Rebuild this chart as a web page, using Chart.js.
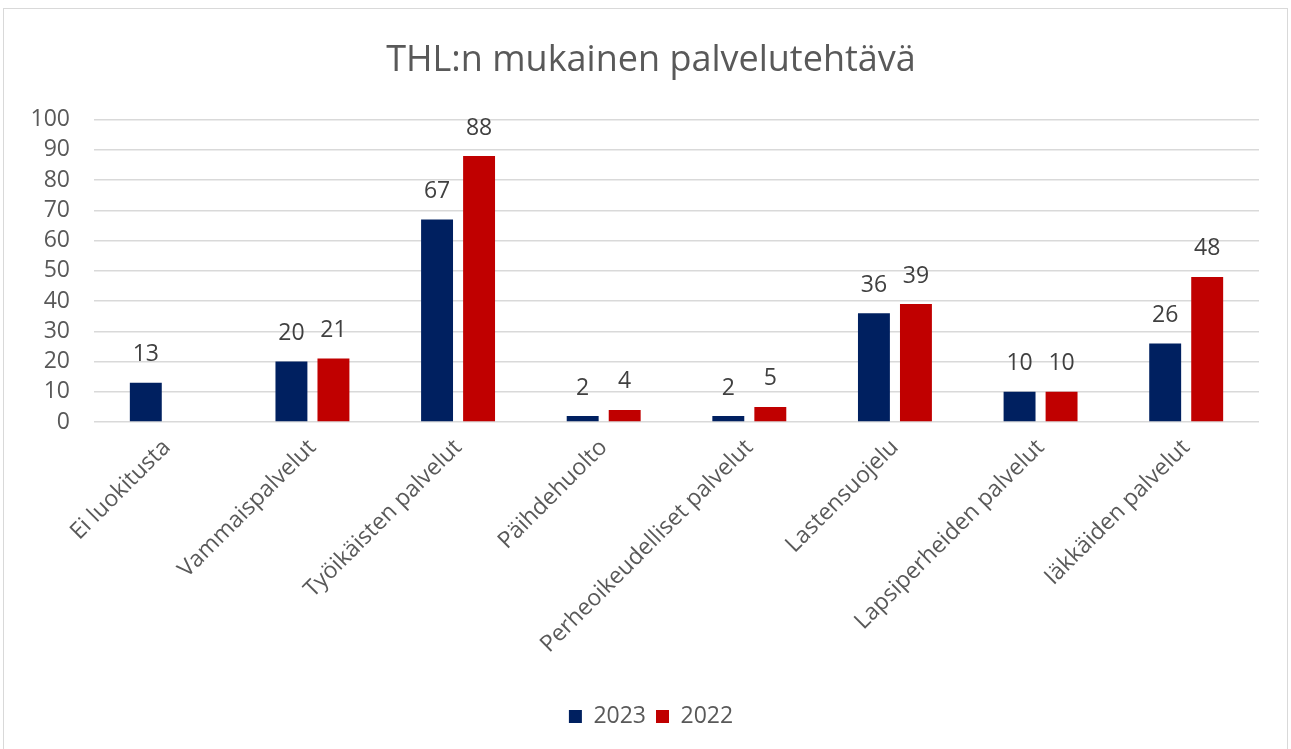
<!DOCTYPE html>
<html>
<head>
<meta charset="utf-8">
<script src="https://cdn.jsdelivr.net/npm/chart.js@4"></script>
<style>
    html, body { margin: 0; padding: 0; background: #fff; }
    body { width: 1291px; height: 749px; overflow: hidden; position: relative; }
    .frame {
        position: absolute; left: 3px; top: 8px;
        width: 1285px; height: 760px;
        border: 1px solid #d9d9d9; box-sizing: border-box;
    }
    .wrap { position: absolute; left: 1px; top: 1px; width: 1283px; height: 740px; }
</style>
</head>
<body>
<div class="frame"><div class="wrap"><canvas id="chart"></canvas></div></div>
<script>
// Data
const categories = ['Ei luokitusta', 'Vammaispalvelut', 'Työikäisten palvelut', 'Päihdehuolto',
    'Perheoikeudelliset palvelut', 'Lastensuojelu', 'Lapsiperheiden palvelut', 'Iäkkäiden palvelut'];
const values2023 = [13, 20, 67, 2, 2, 36, 10, 26];
const values2022 = [null, 21, 88, 4, 5, 39, 10, 48];
const yTicks = [0, 10, 20, 30, 40, 50, 60, 70, 80, 90, 100];

const FONT = '"Open Sans", sans-serif';

// Simple value labels above bars
const valueLabels = {
    id: 'valueLabels',
    afterDatasetsDraw(chart) {
        const ctx = chart.ctx;
        ctx.save();
        ctx.font = '23px ' + FONT;
        ctx.fillStyle = '#404040';
        ctx.textAlign = 'center';
        ctx.textBaseline = 'middle';
        chart.data.datasets.forEach((ds, i) => {
            chart.getDatasetMeta(i).data.forEach((bar, j) => {
                const v = ds.data[j];
                if (v === null) return;
                ctx.fillText(v, bar.x, bar.y - 28);
            });
        });
        ctx.restore();
    }
};

new Chart(document.getElementById('chart').getContext('2d'), {
    type: 'bar',
    data: {
        labels: categories,
        datasets: [
            { label: '2023', data: values2023, backgroundColor: '#002060' },
            { label: '2022', data: values2022, backgroundColor: '#c00000' }
        ]
    },
    options: {
        responsive: true,
        maintainAspectRatio: false,
        animation: false,
        categoryPercentage: 0.577,
        barPercentage: 0.76,
        layout: { padding: { left: 9, right: 0, bottom: 12 } },
        plugins: {
            title: {
                display: true,
                text: 'THL:n mukainen palvelutehtävä',
                color: '#595959',
                font: { family: FONT, size: 36, weight: 'normal' },
                padding: { top: 29, bottom: 37.5 }
            },
            legend: {
                position: 'bottom',
                labels: {
                    color: '#595959',
                    font: { family: FONT, size: 23 },
                    boxWidth: 13,
                    boxHeight: 13,
                    padding: 10
                }
            },
            tooltip: { enabled: false }
        },
        scales: {
            x: {
                grid: { display: false },
                border: { display: false },
                ticks: {
                    color: '#595959',
                    font: { family: FONT, size: 23 },
                    maxRotation: 45,
                    minRotation: 45,
                    padding: 4
                },
                afterFit(scale) { scale.height = 273; }
            },
            y: {
                min: 0,
                max: 100,
                afterBuildTicks(scale) { scale.ticks = yTicks.map(v => ({ value: v })); },
                grid: { color: '#d9d9d9', lineWidth: 1.5, drawTicks: false },
                border: { display: false },
                ticks: {
                    color: '#595959',
                    font: { family: FONT, size: 23 },
                    padding: 24,
                    autoSkip: false
                },
                afterFit(scale) { scale.width = 80; }
            },
            // empty right-hand spacer so the title stays centred on the frame
            y2: {
                type: 'linear',
                position: 'right',
                grid: { display: false },
                border: { display: false },
                ticks: { display: false },
                afterFit(scale) { scale.width = 29; }
            }
        }
    },
    plugins: [valueLabels]
});
</script>
</body>
</html>
